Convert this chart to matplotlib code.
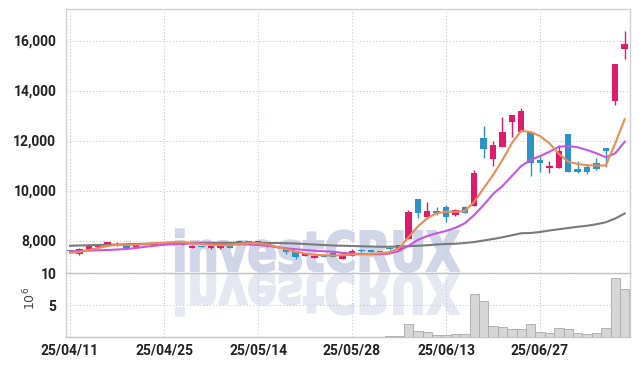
import matplotlib
matplotlib.use('Agg')
import matplotlib.pyplot as plt
from matplotlib import font_manager
from matplotlib.textpath import TextPath
from matplotlib.patches import PathPatch
from matplotlib.font_manager import FontProperties
from matplotlib.transforms import Affine2D, IdentityTransform

# trading days (yy/mm/dd)
dates = ['25/04/11', '25/04/14', '25/04/15', '25/04/16', '25/04/17', '25/04/18',
         '25/04/21', '25/04/22', '25/04/23', '25/04/24', '25/04/25',
         '25/04/28', '25/04/29', '25/04/30', '25/05/02', '25/05/07', '25/05/08',
         '25/05/09', '25/05/12', '25/05/13', '25/05/14',
         '25/05/15', '25/05/16', '25/05/19', '25/05/20', '25/05/21', '25/05/22',
         '25/05/23', '25/05/26', '25/05/27', '25/05/28',
         '25/05/29', '25/05/30', '25/06/02', '25/06/04', '25/06/05', '25/06/09',
         '25/06/10', '25/06/11', '25/06/12', '25/06/13',
         '25/06/16', '25/06/17', '25/06/18', '25/06/19', '25/06/20', '25/06/23',
         '25/06/24', '25/06/25', '25/06/26', '25/06/27',
         '25/06/30', '25/07/01', '25/07/02', '25/07/03', '25/07/04', '25/07/07',
         '25/07/08', '25/07/09', '25/07/10']

opens = [7620, 7450, 7590, 7740, 7810, 7820, 7810, 7730, 7840, 7840,
         7900, 7900, 7960, 7700, 7770, 7710, 7710, 7790, 7820, 7980,
         7850, 7850, 7790, 7690, 7590, 7380, 7310, 7390, 7490, 7270,
         7400, 7630, 7620, 7590, 7690, 7630, 8080, 9650, 8930, 9180,
         9330, 9010, 9330, 9380, 12110, 11270, 11750, 12740, 12350, 12340,
         11220, 10900, 10920, 12260, 10860, 10950, 11090, 11700, 13590, 15670]
highs = [7640, 7700, 7880, 7880, 7950, 7940, 7830, 7840, 7880, 7910,
         7920, 7940, 7970, 7810, 7780, 7800, 7790, 7800, 7980, 7990,
         7990, 7860, 7800, 7700, 7600, 7490, 7390, 7400, 7500, 7390,
         7670, 7660, 7640, 7600, 7700, 7820, 9220, 9680, 9530, 9330,
         9420, 9260, 9380, 10820, 12580, 11980, 12930, 13040, 13290, 12360,
         11370, 11190, 11820, 12270, 11190, 11060, 11290, 11720, 15080, 16390]
lows = [7570, 7440, 7580, 7730, 7800, 7780, 7710, 7720, 7830, 7830,
        7870, 7820, 7830, 7690, 7730, 7660, 7650, 7690, 7810, 7840,
        7840, 7760, 7700, 7460, 7250, 7370, 7300, 7340, 7340, 7260,
        7390, 7540, 7550, 7530, 7640, 7620, 8070, 8890, 8880, 9020,
        8750, 8980, 9100, 9370, 11290, 10980, 11740, 12130, 12340, 10580,
        10750, 10690, 10910, 10740, 10720, 10660, 10820, 10950, 13410, 15250]
closes = [7580, 7650, 7780, 7800, 7940, 7870, 7720, 7830, 7860, 7900,
          7880, 7880, 7840, 7800, 7740, 7790, 7780, 7700, 7970, 7850,
          7980, 7770, 7710, 7550, 7330, 7460, 7380, 7350, 7350, 7380,
          7590, 7590, 7560, 7540, 7650, 7810, 9150, 9110, 9180, 9110,
          8950, 9220, 9110, 10710, 11670, 11820, 12340, 13020, 13180, 11090,
          11110, 10990, 11580, 10750, 10750, 10750, 10860, 11590, 15060, 15860]

ma_short = [7510, 7540, 7620, 7700, 7780, 7830, 7830, 7830, 7860, 7890,
            7910, 7940, 7940, 7890, 7860, 7830, 7810, 7810, 7860, 7890,
            7890, 7840, 7750, 7650, 7550, 7480, 7430, 7410, 7400, 7410,
            7440, 7450, 7460, 7480, 7540, 7690, 8130, 8560, 8890, 9090,
            9150, 9150, 9180, 9550, 10090, 10620, 11220, 11890, 12390, 12340,
            12180, 11890, 11470, 11150, 11060, 11010, 11000, 11000, 11890, 12850]
ma_mid = [7570, 7580, 7600, 7610, 7620, 7640, 7660, 7700, 7750, 7790,
          7830, 7850, 7870, 7880, 7880, 7870, 7860, 7850, 7850, 7840,
          7820, 7790, 7730, 7690, 7650, 7620, 7590, 7570, 7550, 7500,
          7480, 7460, 7450, 7450, 7480, 7580, 7790, 8020, 8180, 8290,
          8380, 8510, 8690, 9020, 9420, 9860, 10180, 10580, 10980, 11220,
          11380, 11550, 11750, 11780, 11730, 11620, 11490, 11330, 11490, 11950]
ma_long = [7790, 7800, 7810, 7820, 7830, 7840, 7850, 7860, 7870, 7880,
           7890, 7900, 7900, 7910, 7910, 7910, 7910, 7910, 7910, 7910,
           7910, 7900, 7900, 7890, 7880, 7860, 7840, 7820, 7800, 7790,
           7780, 7770, 7760, 7750, 7750, 7760, 7770, 7790, 7810, 7840,
           7860, 7870, 7900, 7940, 8000, 8060, 8130, 8210, 8290, 8300,
           8340, 8400, 8450, 8500, 8550, 8590, 8650, 8730, 8880, 9080]

# volume in millions
volumes = [0.05] * 34 + [0.1, 0.16, 2.0, 0.9, 0.75, 0.31, 0.31, 0.47, 0.47, 6.72,
                         5.63, 1.72, 1.51, 1.2, 1.2, 2.03, 0.83, 0.57, 1.35, 1.2,
                         0.57, 0.42, 0.57, 1.35, 9.17, 7.45]

price_ticks = [8000, 10000, 12000, 14000, 16000]
vol_ticks = [5, 10]

UP = '#e01a6c'
DOWN = '#2b93c8'

try:
    font_manager.findfont(FontProperties(family='Liberation Sans Narrow'), fallback_to_default=False)
    tick_font = 'Liberation Sans Narrow'
except ValueError:
    tick_font = 'Roboto'

W, H = 639, 366
fig = plt.figure(figsize=(W / 100, H / 100), dpi=100)
ax = fig.add_axes([66 / W, 1 - 272.5 / H, 564 / W, 263.2 / H])
axv = fig.add_axes([66 / W, 1 - 337 / H, 564 / W, 64.5 / H], sharex=ax)

# watermark with reflection
fp = FontProperties(family='DejaVu Sans', weight='bold')
tp = TextPath((0, 0), 'investCRUX', size=1, prop=fp)
ext = tp.get_extents()
sx = 283 / ext.width
sy = 40 / 0.73
tr_main = Affine2D().translate(-ext.x0, 0).scale(sx, sy).translate(176, H - 271)
tr_refl = Affine2D().translate(-ext.x0, 0).scale(sx, -sy).translate(176, H - 274)
fig.add_artist(PathPatch(tr_main.transform_path(tp), facecolor='#d0d5e8', edgecolor='#d0d5e8',
                         linewidth=1.5, transform=IdentityTransform(), zorder=-1))
fig.add_artist(PathPatch(tr_refl.transform_path(tp), facecolor='#e5e7f1', edgecolor='#e5e7f1',
                         linewidth=1.5, transform=IdentityTransform(), zorder=-1))

x = list(range(len(dates)))

# candles
for i in x:
    o, h, l, c = opens[i], highs[i], lows[i], closes[i]
    col = UP if c >= o else DOWN
    ax.vlines(i, l, h, color=col, linewidth=1, zorder=3)
    body = max(abs(c - o), 30)
    ax.bar(i, body, bottom=min(o, c), width=0.68, color=col, zorder=4)

ax.plot(x, ma_long, color='#7a7a7a', linewidth=1.5, zorder=5)
ax.plot(x, ma_mid, color='#c655e6', linewidth=1.5, zorder=5)
ax.plot(x, ma_short, color='#ef8a52', linewidth=1.5, zorder=5)

axv.bar(x, volumes, width=1.0, color='#d6d6d6', edgecolor='#a9a9a9', linewidth=0.6, zorder=3)

grid_kw = dict(color='#c4c9df', linestyle=(0, (1, 2)), linewidth=0.8)
for a in (ax, axv):
    a.set_facecolor('none')
    a.grid(True, **grid_kw)
    a.set_axisbelow(True)
    a.tick_params(length=0, labelsize=10, colors='#222222', pad=7)
    for s in a.spines.values():
        s.set_color('#cfd0d8')
        s.set_linewidth(1)

ax.set_xlim(-0.43, 59.57)
ax.set_ylim(6720, 17250)
ax.set_yticks(price_ticks)
ax.set_yticklabels([f'{v:,}' for v in price_ticks], fontfamily=tick_font, fontweight='bold')
ax.spines['bottom'].set_color('#bdbdbd')
ax.tick_params(axis='x', labelbottom=False)

axv.set_ylim(0, 10.08)
axv.set_yticks(vol_ticks)
axv.set_yticklabels([str(v) for v in vol_ticks], fontfamily=tick_font, fontweight='bold')
axv.spines['top'].set_visible(False)
axv.spines['bottom'].set_color('#c4c4c4')
axv.set_xticks(x[::10])
axv.set_xticklabels(dates[::10], fontfamily=tick_font, fontweight='bold')
axv.tick_params(axis='x', pad=5)

fig.text(30 / W, 1 - 298 / H, r'$10^{6}$', rotation=90, ha='center', va='center',
         fontsize=9, color='#444444')

fig.savefig('out.png', dpi=100, facecolor='white')
